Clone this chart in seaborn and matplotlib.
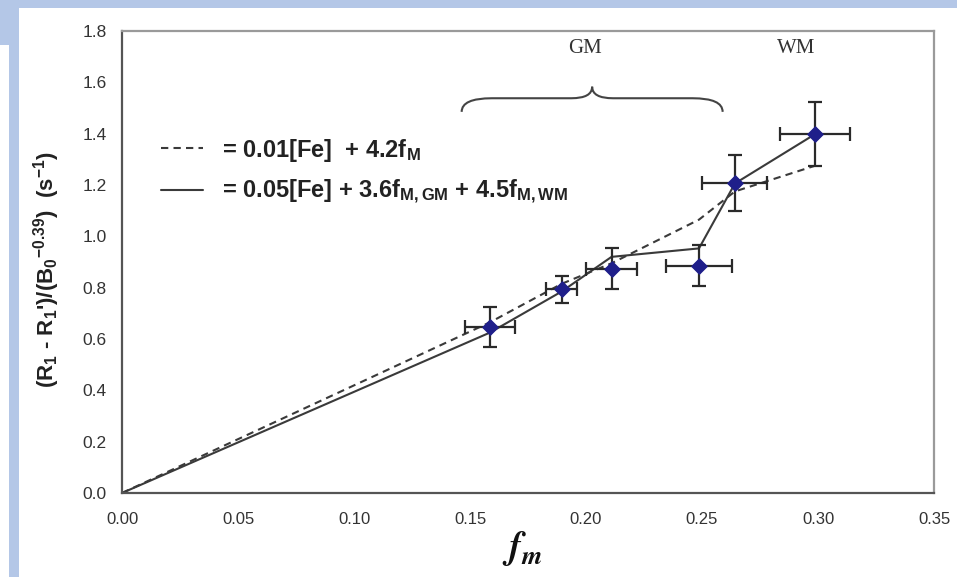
import numpy as np
import pandas as pd
import matplotlib
matplotlib.use("Agg")
import matplotlib.pyplot as plt
import seaborn as sns
from matplotlib import font_manager as fm
from matplotlib.patches import Rectangle, PathPatch
from matplotlib.path import Path

# ---------------- data ----------------
f_m = [0.1586, 0.1895, 0.211, 0.2487, 0.2642, 0.2987]
r1_obs = [0.647, 0.793, 0.873, 0.885, 1.206, 1.398]
x_err = [0.0108, 0.0067, 0.0108, 0.0142, 0.014, 0.0151]
y_err = [0.078, 0.054, 0.08, 0.08, 0.109, 0.125]
model_single = [0.665, 0.815, 0.895, 1.065, 1.175, 1.275]   # dashed
model_split = [0.625, 0.785, 0.92, 0.953, 1.206, 1.398]     # solid
origin = [0.0]
label_single = r"= 0.01[Fe]  + 4.2f$_{M}$"
label_split = r"= 0.05[Fe] + 3.6f$_{M,GM}$ + 4.5f$_{M,WM}$"
x_ticks = [0.00, 0.05, 0.10, 0.15, 0.20, 0.25, 0.30, 0.35]
y_ticks = [0.0, 0.2, 0.4, 0.6, 0.8, 1.0, 1.2, 1.4, 1.6, 1.8]
gm_span = (0.1464, 0.2589)

sns.set_theme(style="white")
plt.rcParams["font.family"] = ["Liberation Sans", "DejaVu Sans"]
plt.rcParams["mathtext.default"] = "regular"

names = {f.name for f in fm.fontManager.ttflist}
narrow = "Liberation Sans Narrow" if "Liberation Sans Narrow" in names else "Liberation Sans"

fig = plt.figure(figsize=(9.57, 5.77), dpi=100)
fig.patch.set_facecolor("white")
border = "#b4c7e7"
fig.patches.append(Rectangle((0, 1 - 8 / 577), 1, 8 / 577, transform=fig.transFigure,
                             facecolor=border, edgecolor="none", zorder=0))
fig.patches.append(Rectangle((0, 1 - 45 / 577), 19 / 957, 45 / 577, transform=fig.transFigure,
                             facecolor=border, edgecolor="none", zorder=0))
fig.patches.append(Rectangle((9 / 957, 0), 10 / 957, 1, transform=fig.transFigure,
                             facecolor=border, edgecolor="none", zorder=0))

ax = fig.add_axes([122 / 957, 84 / 577, 812 / 957, 462 / 577])
ax.set_facecolor("white")

df_single = pd.DataFrame({"x": origin + f_m, "y": origin + model_single})
df_split = pd.DataFrame({"x": origin + f_m, "y": origin + model_split})
sns.lineplot(data=df_single, x="x", y="y", ax=ax, sort=False, estimator=None,
             color="#3a3a3a", lw=1.5, linestyle=(0, (3.5, 2.5)), label=label_single)
sns.lineplot(data=df_split, x="x", y="y", ax=ax, sort=False, estimator=None,
             color="#3a3a3a", lw=1.5, label=label_split)

ax.errorbar(f_m, r1_obs, xerr=x_err, yerr=y_err, fmt="none", ecolor="#2a2a2a",
            elinewidth=1.6, capsize=5, capthick=1.6, zorder=3)
sns.scatterplot(x=f_m, y=r1_obs, ax=ax, marker="D", s=65, color="#1f1f8a",
                edgecolor="#1f1f8a", zorder=4, legend=False)

ax.set_xlim(0, 0.35)
ax.set_ylim(0, 1.8)
ax.set_xticks(x_ticks)
ax.set_xticklabels([f"{v:.2f}" for v in x_ticks], fontfamily=narrow, fontsize=12, color="#333333")
ax.set_yticks(y_ticks)
ax.set_yticklabels([f"{v:.1f}" for v in y_ticks], fontsize=12.5, color="#333333")
ax.tick_params(axis="both", direction="out", length=5, width=1.3, color="#444444", pad=6)
ax.tick_params(axis="x", pad=9)
ax.set_xlabel("")
ax.set_ylabel("")
for side in ["left", "bottom"]:
    ax.spines[side].set_color("#555555")
    ax.spines[side].set_linewidth(1.6)
for side in ["top", "right"]:
    ax.spines[side].set_color("#9a9a9a")
    ax.spines[side].set_linewidth(1.6)
    ax.spines[side].set_visible(True)

leg = ax.legend(loc="upper left", bbox_to_anchor=(0.034, 0.797), frameon=False,
                prop={"weight": "bold", "size": 17}, handlelength=1.75,
                handletextpad=0.8, labelspacing=0.62, borderpad=0)
for t in leg.get_texts():
    t.set_color("#222222")

# GM brace
x0, x1 = gm_span
xc = (x0 + x1) / 2
y_end, y_flat, y_tip = 1.485, 1.538, 1.583
verts = [(x0, y_end), (x0, y_flat), (x0 + 0.013, y_flat),
         (xc - 0.009, y_flat), (xc, y_flat), (xc, y_tip),
         (xc, y_flat), (xc + 0.009, y_flat),
         (x1 - 0.013, y_flat), (x1, y_flat), (x1, y_end)]
codes = [Path.MOVETO, Path.CURVE3, Path.CURVE3,
         Path.LINETO, Path.CURVE3, Path.CURVE3,
         Path.CURVE3, Path.CURVE3,
         Path.LINETO, Path.CURVE3, Path.CURVE3]
ax.add_patch(PathPatch(Path(verts, codes), facecolor="none", edgecolor="#444444", lw=1.5))
ax.text(xc - 0.003, 1.733, "GM", ha="center", va="center", fontfamily="Liberation Serif",
        fontsize=15, color="#333333")
ax.text(0.2908, 1.733, "WM", ha="center", va="center", fontfamily="Liberation Serif",
        fontsize=15, color="#333333")

fig.text(47 / 957, 1 - 270 / 577, r"(R$_1$ - R$_1$')/(B$_0$$^{-0.39}$)  (s$^{-1}$)",
         rotation=90, ha="center", va="center", fontsize=16, fontweight="bold", color="#222222")

plt.rcParams["mathtext.fontset"] = "stix"
fig.text(522 / 957, 1 - 548 / 577, r"$\mathbfit{f}_{\mathbfit{m}}$", ha="center", va="center",
         fontsize=27, color="#111111")

fig.savefig("out.png", dpi=100, facecolor="white")
